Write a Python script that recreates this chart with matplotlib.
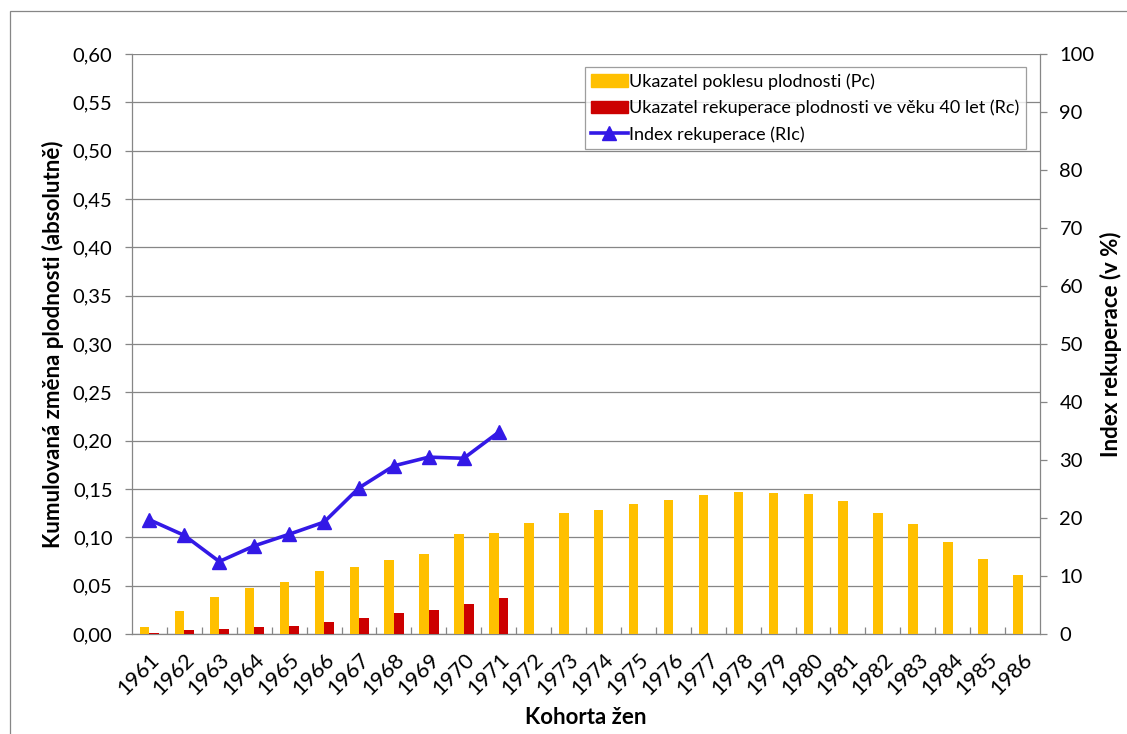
import numpy as np
import matplotlib
matplotlib.use("Agg")
import matplotlib.pyplot as plt
from matplotlib.lines import Line2D
from matplotlib.patches import Rectangle

plt.rcParams["font.family"] = ["Lato", "DejaVu Sans"]

# cohorts of women
years = list(range(1961, 1987))

# fertility decline indicator (Pc)
pc = [0.007, 0.024, 0.038, 0.048, 0.054, 0.065, 0.069, 0.077, 0.083, 0.103,
      0.105, 0.115, 0.125, 0.128, 0.134, 0.139, 0.144, 0.147, 0.146, 0.145,
      0.138, 0.125, 0.114, 0.095, 0.078, 0.061]

# fertility recuperation at age 40 (Rc), only complete cohorts
rc = [0.0013, 0.0038, 0.0052, 0.0073, 0.0083, 0.012, 0.0166, 0.0218, 0.0252,
      0.0314, 0.0373]

# recuperation index (RIc) in %
ric = [19.7, 17.0, 12.5, 15.2, 17.2, 19.3, 25.2, 29.0, 30.5, 30.3, 34.8]

yellow = "#FFC000"
red = "#CC0000"
blue = "#3319E6"
grey = "#868686"

fig = plt.figure(figsize=(11.27, 7.34), dpi=100)
ax = fig.add_axes([0.1171, 0.1362, 0.8057, 0.7902])

x = np.arange(len(years))
w = 0.27
ax.bar(x - w, pc, width=w, align="edge", color=yellow, zorder=3)
ax.bar(x[:len(rc)], rc, width=w + 0.01, align="edge", color=red, zorder=3)

ax.set_xlim(-0.5, len(years) - 0.5)
ax.set_ylim(0, 0.6)
yt = np.arange(0, 0.601, 0.05)
ax.set_yticks(yt)
ax.set_yticklabels([f"{v:.2f}".replace(".", ",") for v in yt], fontsize=14.5)
ax.yaxis.grid(True, color=grey, lw=0.9, zorder=0)
ax.set_axisbelow(True)

ax.set_xticks(x)
ax.set_xticklabels([str(y) for y in years], rotation=45, ha="right",
                   rotation_mode="anchor", fontsize=15.5)
ax.tick_params(axis="x", which="major", length=0, pad=11)
ax.set_xticks(np.arange(0.5, len(years) - 0.5), minor=True)
ax.tick_params(axis="x", which="minor", direction="in", length=5,
               color=grey, width=0.9)
ax.tick_params(axis="y", length=5, color=grey, width=0.9, pad=9)

for s in ["left", "bottom"]:
    ax.spines[s].set_color(grey)
    ax.spines[s].set_linewidth(0.9)
ax.spines["top"].set_visible(False)
ax.spines["right"].set_visible(False)

ax.set_ylabel("Kumulovaná změna plodnosti (absolutně)", fontsize=16,
              fontweight="bold", labelpad=6)
ax.set_xlabel("Kohorta žen", fontsize=16, fontweight="bold", labelpad=6)

ax2 = ax.twinx()
ax2.plot(x[:len(ric)], ric, color=blue, lw=2.6, marker="^", ms=10, zorder=4)
ax2.set_ylim(0, 100)
ax2.set_yticks(np.arange(0, 101, 10))
ax2.tick_params(axis="y", labelsize=14.5, length=5, color=grey, width=0.9, pad=9)
for s in ["left", "top", "bottom"]:
    ax2.spines[s].set_visible(False)
ax2.spines["right"].set_color(grey)
ax2.spines["right"].set_linewidth(0.9)
ax2.set_ylabel("Index rekuperace (v %)", fontsize=16, fontweight="bold",
               labelpad=4)

handles = [
    Rectangle((0, 0), 1, 1, color=yellow),
    Rectangle((0, 0), 1, 1, color=red),
    Line2D([], [], color=blue, lw=2.6, marker="^", ms=10),
]
labels = [
    "Ukazatel poklesu plodnosti (Pc)",
    "Ukazatel rekuperace plodnosti ve věku 40 let (Rc)",
    "Index rekuperace (RIc)",
]
leg = ax2.legend(handles, labels, loc="upper left", bbox_to_anchor=(0.499, 0.978),
                 borderaxespad=0, fontsize=13, frameon=True, fancybox=False,
                 edgecolor=grey, handlelength=2.0, handletextpad=0.1,
                 labelspacing=0.55, borderpad=0.35)
leg.get_frame().set_linewidth(0.9)

# outer chart border
fig.patches.append(Rectangle((10 / 1127, -0.01), 1.1, (734 - 11) / 734 + 0.01,
                             transform=fig.transFigure, fill=False,
                             edgecolor=grey, lw=0.9))

fig.savefig("out.png", dpi=100)
